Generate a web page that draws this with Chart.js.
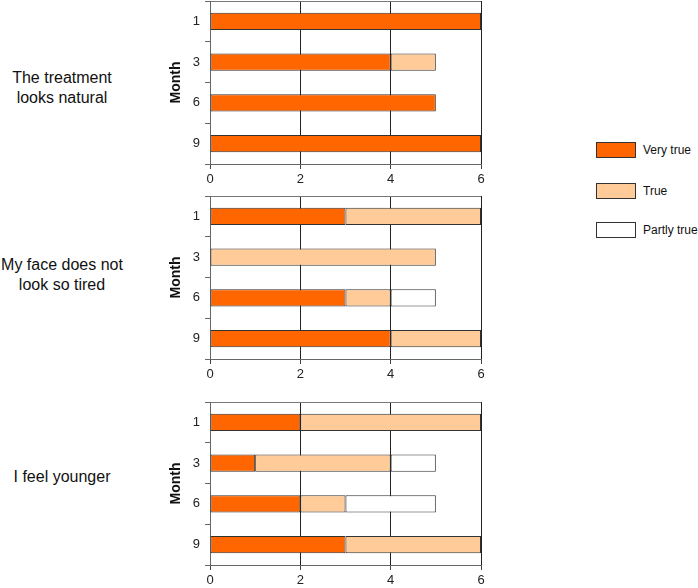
<!DOCTYPE html>
<html>
<head>
<meta charset="utf-8">
<script src="https://cdn.jsdelivr.net/npm/chart.js@4/dist/chart.umd.min.js"></script>
<style>
  html, body { margin:0; padding:0; background:#fff; overflow:hidden; }
  body { width:698px; height:588px; position:relative; font-family:"Liberation Sans", Arial, sans-serif; color:#111; }
  .cv { position:absolute; left:150px; width:345px; }
  .lbl { position:absolute; left:0; width:124px; text-align:center; font-size:16px; line-height:20px; }
  .leg { position:absolute; left:596px; width:40px; height:16px; box-sizing:border-box; border:1px solid #333; }
  .legt { position:absolute; left:643px; font-size:12px; line-height:16px; }
</style>
</head>
<body>
<div class="lbl" style="top:68px">The treatment<br>looks natural</div>
<div class="lbl" style="top:255px">My face does not<br>look so tired</div>
<div class="lbl" style="top:467px">I feel younger</div>

<div class="leg" style="top:142px;background:#FF6600"></div><div class="legt" style="top:142px">Very true</div>
<div class="leg" style="top:183px;background:#FFCC99"></div><div class="legt" style="top:183px">True</div>
<div class="leg" style="top:222px;background:#FFFFFF"></div><div class="legt" style="top:222px">Partly true</div>

<div class="cv" style="top:0px;height:188px"><canvas id="c1"></canvas></div>
<div class="cv" style="top:191px;height:192px"><canvas id="c2"></canvas></div>
<div class="cv" style="top:397px;height:192px"><canvas id="c3"></canvas></div>

<script>
const months = ["1", "3", "6", "9"];
const xTicks = [0, 2, 4, 6];
const seriesNames = ["Very true", "True", "Partly true"];

// Panel 1: The treatment looks natural
const natural_veryTrue = [6, 4, 5, 6];
const natural_true     = [0, 1, 0, 0];
const natural_partly   = [0, 0, 0, 0];
// Panel 2: My face does not look so tired
const tired_veryTrue = [3, 0, 3, 4];
const tired_true     = [3, 5, 1, 2];
const tired_partly   = [0, 0, 1, 0];
// Panel 3: I feel younger
const younger_veryTrue = [2, 1, 2, 3];
const younger_true     = [4, 3, 1, 3];
const younger_partly   = [0, 1, 2, 0];

const colors = ["#FF6600", "#FFCC99", "#FFFFFF"];
const FONT = "'Liberation Sans', Arial, sans-serif";

function makeChart(id, series, padTop) {
  const datasets = series.map((vals, i) => ({
    label: seriesNames[i],
    data: vals.map(v => v === 0 ? null : v),
    backgroundColor: colors[i],
    borderColor: "#333",
    borderWidth: 1,
    borderSkipped: false,
    categoryPercentage: 1,
    barPercentage: 0.42
  }));
  new Chart(document.getElementById(id), {
    type: "bar",
    data: { labels: months, datasets },
    options: {
      indexAxis: "y",
      responsive: true,
      maintainAspectRatio: false,
      animation: false,
      layout: { padding: { top: padTop, right: 14, left: 0, bottom: 0 } },
      plugins: { legend: { display: false }, tooltip: { enabled: false } },
      scales: {
        x: {
          stacked: true,
          min: 0, max: 6,
          afterBuildTicks: s => { s.ticks = xTicks.map(v => ({ value: v })); },
          afterFit: s => { s.height = 24; s.paddingLeft = 0; s.paddingRight = 0; },
          ticks: { color: "#222", font: { family: FONT, size: 13 }, padding: 3 },
          grid: { color: "#222", lineWidth: 1, tickLength: 5, tickColor: "#444" },
          border: { display: true, color: "#666", width: 1 }
        },
        y: {
          stacked: true,
          afterFit: s => { s.width = 60; s.paddingTop = 0; s.paddingBottom = 0; },
          ticks: { color: "#222", font: { family: FONT, size: 13 }, padding: 5 },
          grid: {
            offset: true,
            drawOnChartArea: true,
            color: ctx => ctx.index === 0 ? "#777" : "rgba(0,0,0,0)",
            tickColor: "#666",
            tickLength: 5
          },
          border: { display: true, color: "#666", width: 1 },
          title: {
            display: true,
            text: "Month",
            color: "#111",
            font: { family: FONT, size: 14, weight: "bold" },
            padding: { top: 18, bottom: 0 }
          }
        }
      }
    }
  });
}

makeChart("c1", [natural_veryTrue, natural_true, natural_partly], 1);
makeChart("c2", [tired_veryTrue, tired_true, tired_partly], 5);
makeChart("c3", [younger_veryTrue, younger_true, younger_partly], 5);
</script>
</body>
</html>
